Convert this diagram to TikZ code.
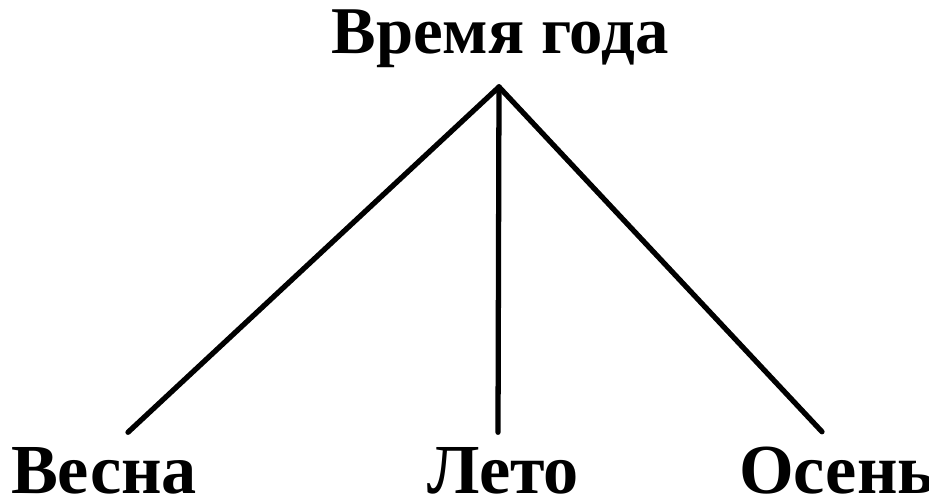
\documentclass[tikz,border=0pt]{standalone}
\usepackage{fontspec}
\setmainfont{Liberation Serif}
\usetikzlibrary{calc}

\begin{document}
\begin{tikzpicture}
  \tikzstyle{word}=[font=\fontsize{19}{22}\selectfont\bfseries,inner sep=0pt,anchor=base]
  \tikzstyle{leaf}=[word,font=\fontsize{20}{23}\selectfont\bfseries,text depth=0pt]
  \tikzstyle{branch}=[line width=1.5pt,line cap=round]
  \useasboundingbox (0,0) rectangle (9.29,5.01);
  \node[word] (season) at (5.00,4.48) {Время года};
  \node[leaf] (spring) at (1.04,0.08) {Весна};
  \node[leaf] (summer) at (5.03,0.08) {Лето};
  \node[leaf] (autumn) at (8.37,0.08) {Осень};

  \coordinate (top) at ($(season.south)+(-0.01,-0.19)$);
  \draw[branch] (top) -- ($(spring.north)+(0.24,0.14)$);
  \draw[branch] (top) -- ($(summer.north)+(-0.05,0.14)$);
  \draw[branch] (top) -- ($(autumn.north)+(-0.15,0.14)$);
\end{tikzpicture}
\end{document}
